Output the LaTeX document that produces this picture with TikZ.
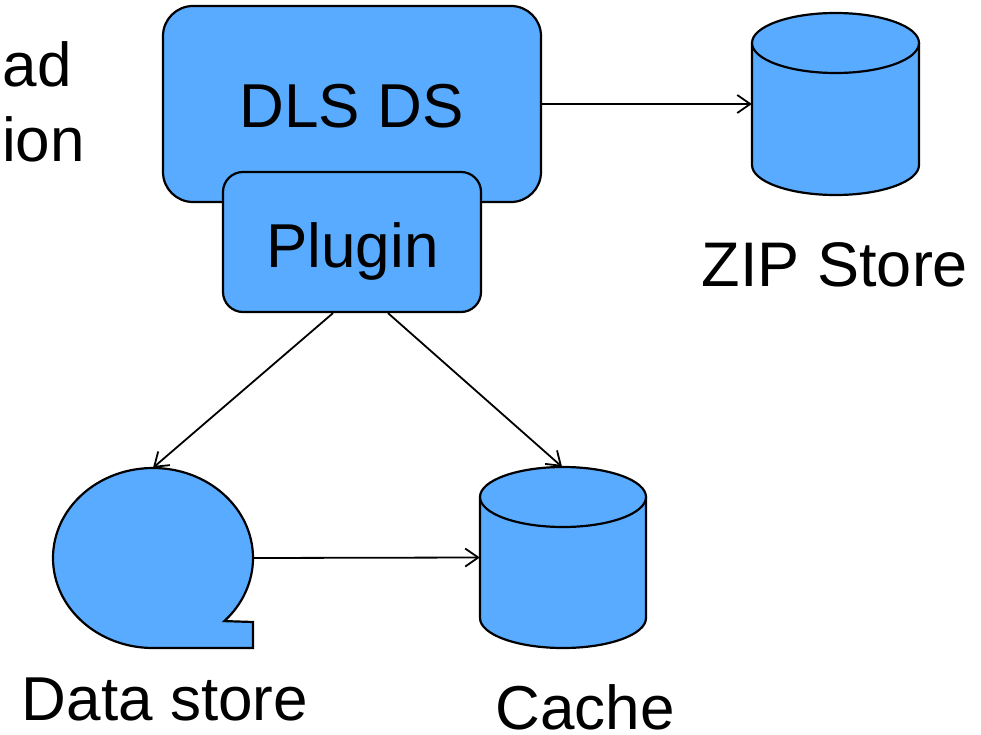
\documentclass[tikz,border=0pt]{standalone}
\usepackage{fontspec}
\setmainfont{Liberation Sans}
\usetikzlibrary{arrows.meta}
\definecolor{boxblue}{HTML}{59ABFF}
\tikzset{
  shapeline/.style={draw=black, line width=2.2pt, fill=boxblue},
  rbox/.style={shapeline, rectangle, inner sep=0pt},
  ghost/.style={rectangle, inner sep=0pt, draw=none},
  lbl/.style={inner sep=0pt, font=\fontsize{62}{75}\selectfont, anchor=base},
  conn/.style={draw=black, line width=1.8pt, -{Straight Barb[length=13pt,width=18pt,line width=1.8pt]}},
}
\begin{document}
\begin{tikzpicture}[x=1pt,y=1pt]
\useasboundingbox (0,0) rectangle (981,-735);
% DLS DS and Plugin
\node[rbox, rounded corners=30pt, minimum width=378pt, minimum height=196pt] (dls) at (352,-104) {};
\node[rbox, rounded corners=20pt, minimum width=258pt, minimum height=140pt] (plug) at (352,-242) {};
\node[lbl] (dlst) at (351.5,-128) {DLS DS};
\node[lbl] (plugt) at (352.5,-267) {Plugin};
% ZIP store cylinder
\node[ghost, minimum width=167pt, minimum height=182pt] (zip) at (835.5,-104) {};
\draw[shapeline] (752,-43) -- (752,-165) arc[start angle=180, end angle=360, x radius=83.5, y radius=30] -- (919,-43) arc[start angle=0, end angle=180, x radius=83.5, y radius=30];
\draw[shapeline] (752,-43) arc[start angle=180, end angle=360, x radius=83.5, y radius=30];
\node[lbl, font=\fontsize{63}{75}\selectfont] (zipt) at (835,-286) {ZIP Store};
% Cache cylinder
\node[ghost, minimum width=166pt, minimum height=181pt] (cache) at (563,-557.5) {};
\draw[shapeline] (480,-497) -- (480,-618) arc[start angle=180, end angle=360, x radius=83, y radius=30] -- (646,-497) arc[start angle=0, end angle=180, x radius=83, y radius=30];
\draw[shapeline] (480,-497) arc[start angle=180, end angle=360, x radius=83, y radius=30];
\node[lbl] (cachet) at (585,-729) {Cache};
% Data store (sequential storage)
\node[ghost, minimum width=200pt, minimum height=180pt] (data) at (153,-558) {};
\draw[shapeline] (153,-648) arc[start angle=270, end angle=-44.5, x radius=100, y radius=90] -- (253,-622) -- (253,-648) -- cycle;
\node[lbl] (datat) at (165,-720) {Data store};
% cut-off text at top left
\node[lbl, anchor=base east] (t1) at (72,-87) {ad};
\node[lbl, anchor=base east] (t2) at (85,-162) {ion};
% connectors
\draw[conn] (dls.east) -- (zip.west);
\draw[conn] ([xshift=-19pt]plug.south) -- (data.north);
\draw[conn] ([xshift=36pt]plug.south) -- ([xshift=-1pt]cache.north);
\draw[conn] (data.east) -- (cache.west);
\end{tikzpicture}
\end{document}
